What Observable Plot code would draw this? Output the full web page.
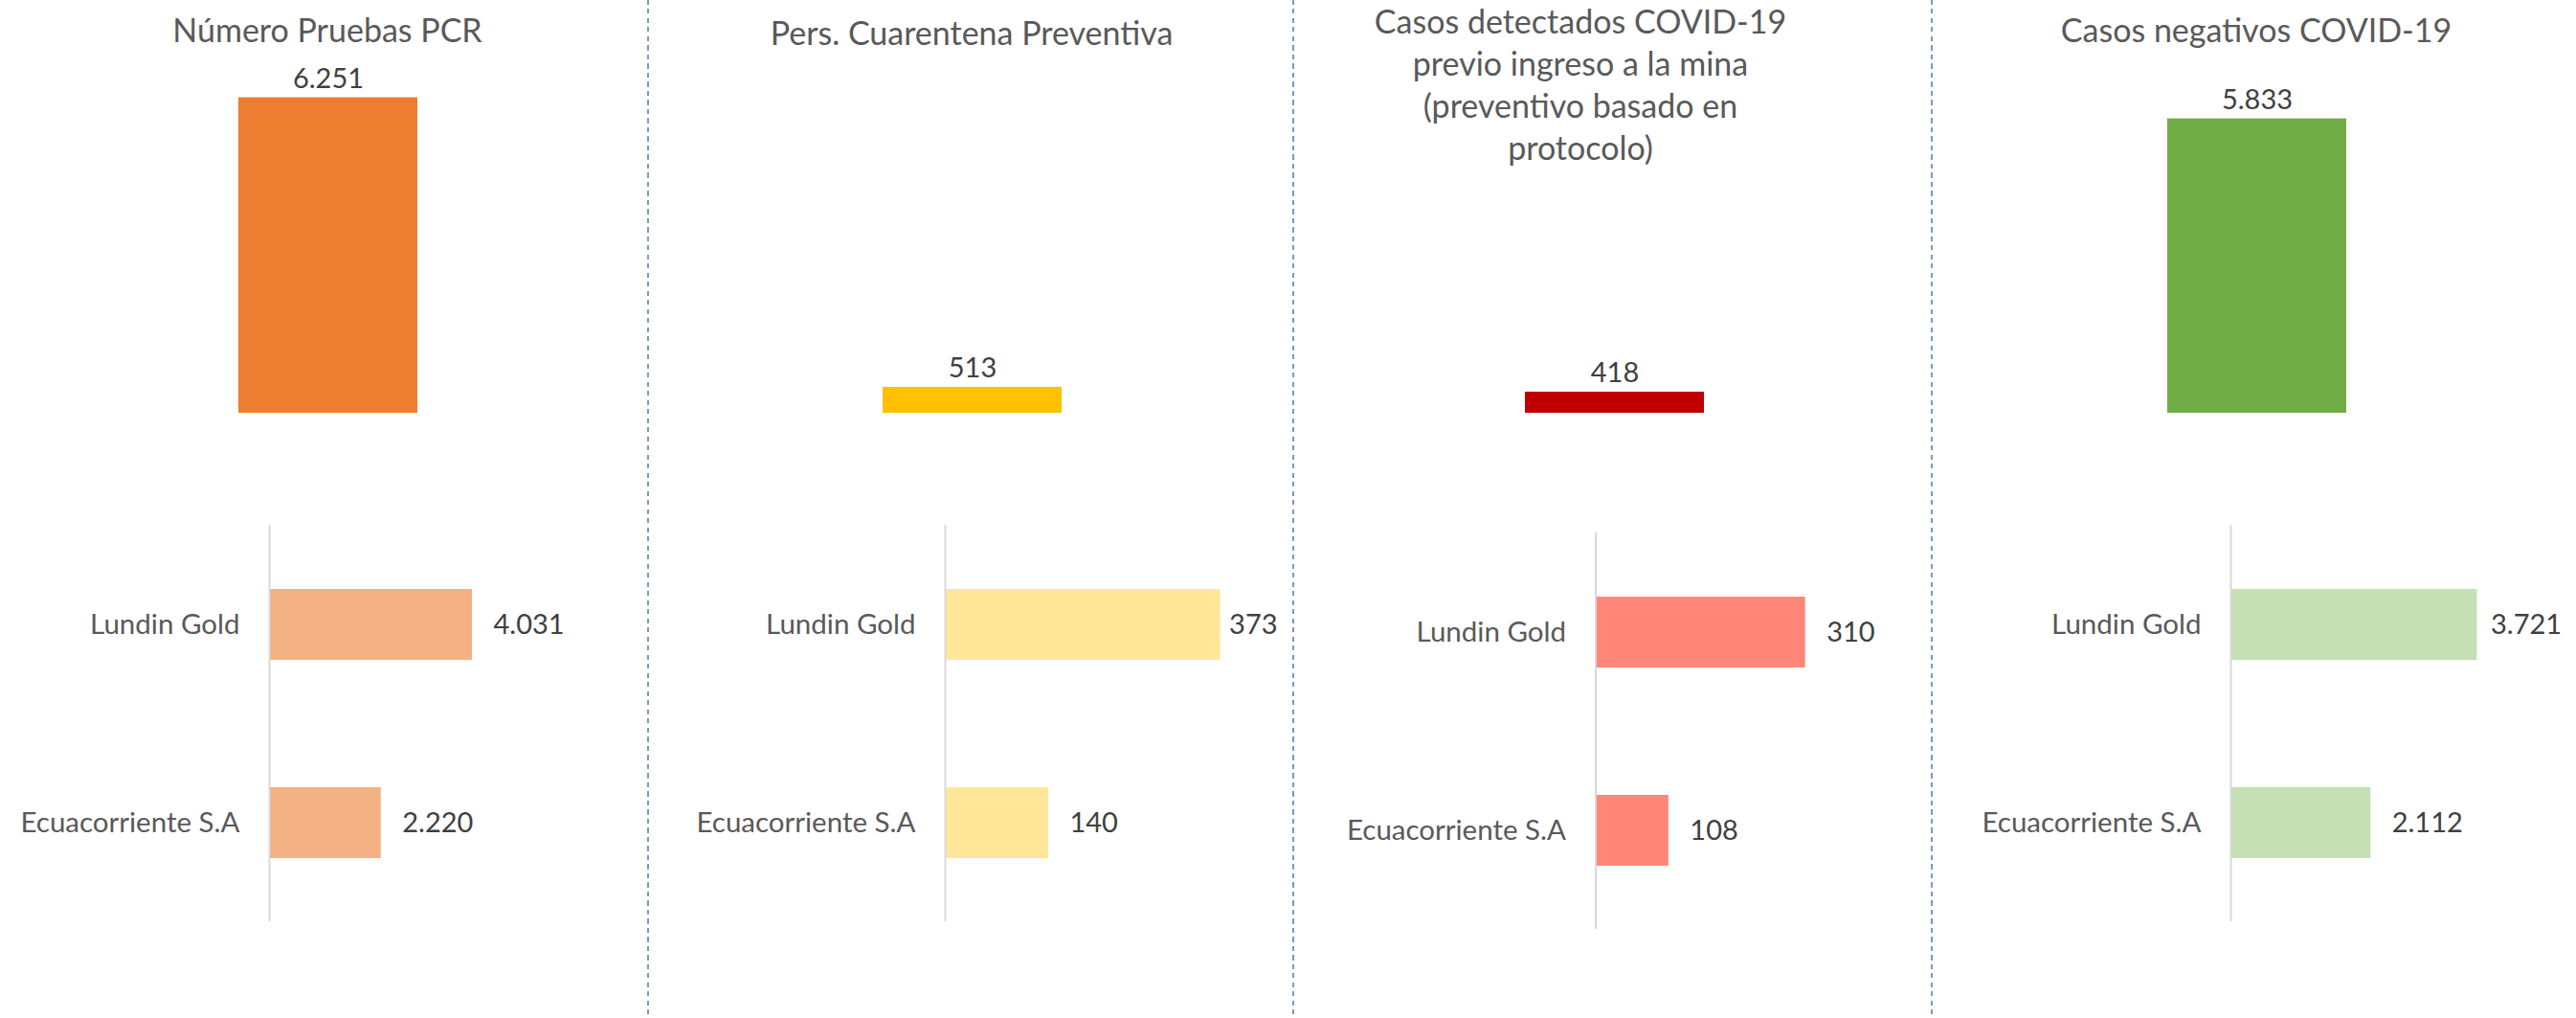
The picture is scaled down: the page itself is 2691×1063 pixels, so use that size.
<!DOCTYPE html>
<html>
<head>
<meta charset="utf-8">
<script src="https://cdn.jsdelivr.net/npm/d3@7"></script>
<script src="https://cdn.jsdelivr.net/npm/@observablehq/plot@0.6"></script>
<style>
  html, body { margin: 0; padding: 0; background: #fff; }
  #root { position: relative; width: 2691px; height: 1063px; overflow: hidden; font-family: Lato, sans-serif; background: #fff; }
  .panel-title { position: absolute; width: 640px; text-align: center; white-space: pre; color: #595959; font-size: 34px; font-family: Lato, sans-serif; }
  .divider { position: absolute; top: 0; width: 2px; height: 1063px; background: repeating-linear-gradient(to bottom, #7a9ac0 0 5px, transparent 5px 9.5px); }
  .chart { position: absolute; }
  .chart svg { background: transparent; max-width: none; }
</style>
</head>
<body>
<div id="root"></div>
<script>
// ---------- data ----------
const titles = [
  "Número Pruebas PCR",
  "Pers. Cuarentena Preventiva",
  "Casos detectados COVID-19\nprevio ingreso a la mina\n(preventivo basado en\nprotocolo)",
  "Casos negativos COVID-19"
];
const totals = [6251, 513, 418, 5833];
const companies = ["Lundin Gold", "Ecuacorriente S.A"];
const lundinGold = [4031, 373, 310, 3721];
const ecuacorriente = [2220, 140, 108, 2112];
const totalColors = ["#ED7D31", "#FFC000", "#C00000", "#70AD47"];
const companyColors = ["#F4B183", "#FFE699", "#FF877A", "#C5E0B4"];

// ---------- layout ----------
const panelLeft = [0, 679, 1352, 2019];
const panelRight = [679, 1352, 2019, 2691];
const dividerX = [676, 1350, 2017];
const barCenter = [342, 1015, 1686, 2357];
const barWidth = 187;
const titleCenter = [342, 1015, 1651, 2357];
const titleTop = [8, 11, 0, 8];
const titleLineHeight = [45.5, 45.5, 44, 45.5];
const topHeight = 440, topBaseline = 431, topPxPerUnit = 0.0527;
const axisX = [281, 987, 1666.5, 2330];
const bottomTop = 500, bottomHeight = 563, bottomFrameTop = 548, bottomFrameBottom = 962;
const bottomShift = [0, 0, 8, 0];
const xMax = [5000, 400, 400, 4000];
const pxPerUnit = [0.0526, 0.771, 0.707, 0.0692];
const labelDx = [[22, 22], [9, 22], [22, 22], [14, 22]];
const valueFont = 29, categoryFont = 29.5;

const fmt = d3.formatLocale({decimal: ",", thousands: ".", grouping: [3], currency: ["", ""]}).format(",d");
const root = document.getElementById("root");

function place(el, left, top) {
  const div = document.createElement("div");
  div.className = "chart";
  div.style.left = left + "px";
  div.style.top = top + "px";
  div.appendChild(el);
  root.appendChild(div);
}

for (let i = 0; i < 4; i++) {
  const W = panelRight[i] - panelLeft[i];
  // ---- top: total bar ----
  const topData = [{panel: titles[i], value: totals[i]}];
  const ml = barCenter[i] - panelLeft[i] - barWidth / 2;
  const topPlot = Plot.plot({
    width: W,
    height: topHeight,
    marginTop: 0,
    marginBottom: topHeight - topBaseline,
    marginLeft: ml,
    marginRight: W - ml - barWidth,
    style: {background: "transparent", fontFamily: "Lato, sans-serif", maxWidth: "none", overflow: "visible"},
    x: {domain: [titles[i]], padding: 0, axis: null},
    y: {domain: [0, topBaseline / topPxPerUnit], axis: null},
    marks: [
      Plot.barY(topData, {x: "panel", y: "value", fill: totalColors[i]}),
      Plot.text(topData, {x: "panel", y: "value", text: d => fmt(d.value), lineAnchor: "bottom", dy: -10, fontSize: valueFont, fill: "#404040"})
    ]
  });
  place(topPlot, panelLeft[i], 0);

  // ---- bottom: companies ----
  const rows = [
    {company: companies[0], value: lundinGold[i]},
    {company: companies[1], value: ecuacorriente[i]}
  ];
  const bml = axisX[i] - panelLeft[i];
  const rangeW = xMax[i] * pxPerUnit[i];
  const bottomPlot = Plot.plot({
    width: W,
    height: bottomHeight,
    marginTop: bottomFrameTop - bottomTop,
    marginBottom: bottomTop + bottomHeight - bottomFrameBottom,
    marginLeft: bml,
    marginRight: W - bml - rangeW,
    style: {background: "transparent", fontFamily: "Lato, sans-serif", fontSize: categoryFont + "px", color: "#595959", maxWidth: "none", overflow: "visible"},
    x: {domain: [0, xMax[i]], axis: null},
    y: {domain: companies, paddingInner: 0.643, paddingOuter: 0.3215, label: null, axis: null},
    marks: [
      Plot.axisY({tickSize: 0, tickPadding: 31, fontSize: categoryFont, fill: "#595959"}),
      Plot.barX(rows, {x: "value", y: "company", fill: companyColors[i]}),
      Plot.ruleX([0], {stroke: "#d9d9d9", strokeWidth: 2}),
      Plot.text(rows.slice(0, 1), {x: "value", y: "company", text: d => fmt(d.value), textAnchor: "start", dx: labelDx[i][0], fontSize: valueFont, fill: "#404040"}),
      Plot.text(rows.slice(1), {x: "value", y: "company", text: d => fmt(d.value), textAnchor: "start", dx: labelDx[i][1], fontSize: valueFont, fill: "#404040"})
    ]
  });
  place(bottomPlot, panelLeft[i], bottomTop + bottomShift[i]);

  // ---- title ----
  const t = document.createElement("div");
  t.className = "panel-title";
  t.style.left = (titleCenter[i] - 320) + "px";
  t.style.top = titleTop[i] + "px";
  t.style.lineHeight = titleLineHeight[i] + "px";
  t.textContent = titles[i];
  root.appendChild(t);
}

// ---------- dividers ----------
for (const x of dividerX) {
  const d = document.createElement("div");
  d.className = "divider";
  d.style.left = x + "px";
  root.appendChild(d);
}
</script>
</body>
</html>
